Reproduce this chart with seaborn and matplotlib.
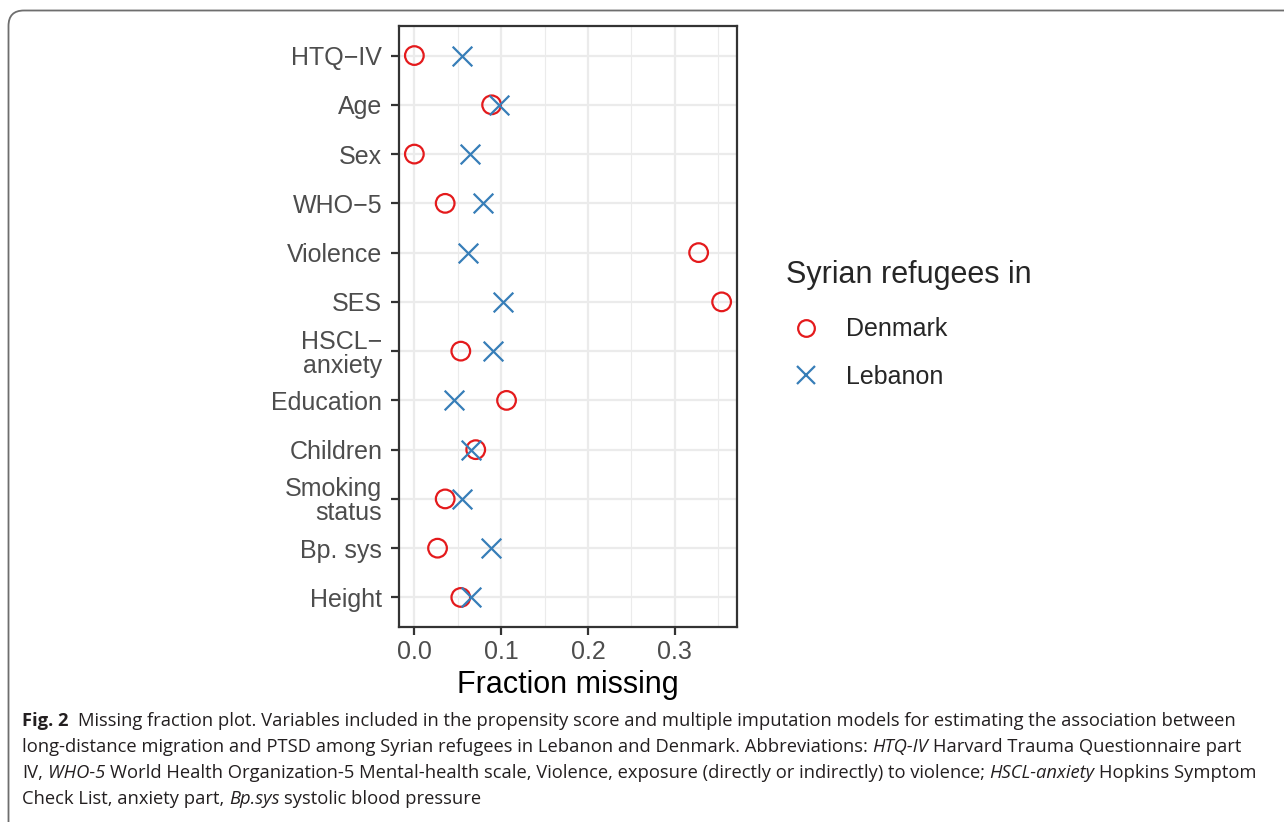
import numpy as np
import pandas as pd
import matplotlib
matplotlib.use("Agg")
import matplotlib.pyplot as plt
import seaborn as sns
from matplotlib.patches import FancyBboxPatch
from matplotlib.lines import Line2D

# variables, top to bottom
variables = ["HTQ\u2212IV", "Age", "Sex", "WHO\u22125", "Violence", "SES",
             "HSCL\u2212\nanxiety", "Education", "Children", "Smoking\nstatus",
             "Bp. sys", "Height"]
denmark = [0.0, 0.089, 0.0, 0.0355, 0.3275, 0.354,
           0.0535, 0.1062, 0.0707, 0.0355, 0.0267, 0.0535]
lebanon = [0.0554, 0.0975, 0.0638, 0.079, 0.0623, 0.1024,
           0.0906, 0.0451, 0.0657, 0.0554, 0.0879, 0.065]
x_ticks = [0.0, 0.1, 0.2, 0.3]

red = "#E41A1C"
blue = "#377EB8"

df = pd.DataFrame({
    "variable": variables * 2,
    "pos": list(range(len(variables))) * 2,
    "missing": denmark + lebanon,
    "country": ["Denmark"] * len(variables) + ["Lebanon"] * len(variables),
})

sns.set_style("white")
plt.rcParams["font.family"] = ["Liberation Sans", "DejaVu Sans"]

W, H = 1284, 822
fig = plt.figure(figsize=(W / 100, H / 100), dpi=100)
ax = fig.add_axes([399 / W, 1 - 627 / H, (737 - 399) / W, (627 - 26) / H])

# grid
for v in x_ticks:
    ax.axvline(v, color="#EBEBEB", lw=1.6, zorder=0)
for v in [0.05, 0.15, 0.25, 0.35]:
    ax.axvline(v, color="#EBEBEB", lw=0.8, zorder=0)
for i in range(len(variables)):
    ax.axhline(i, color="#EBEBEB", lw=1.6, zorder=0)

dk = df[df.country == "Denmark"]
lb = df[df.country == "Lebanon"]
sns.scatterplot(data=dk, x="missing", y="pos", marker="o", s=180,
                facecolors="none", edgecolors=red, linewidths=1.6, ax=ax, zorder=3)
sns.scatterplot(data=lb, x="missing", y="pos", marker="x", s=200,
                color=blue, linewidths=1.6, ax=ax, zorder=3)

ax.set_xlim(-0.0177, 0.3717)
ax.set_ylim(len(variables) - 0.4, -0.6)
ax.set_yticks(range(len(variables)))
ax.set_yticklabels(variables, fontsize=18, color="#4D4D4D", ha="right",
                   linespacing=1.0)
ax.set_xticks(x_ticks)
ax.set_xticklabels([f"{v:.1f}" for v in x_ticks], fontsize=18, color="#4D4D4D")
ax.tick_params(axis="both", length=6, width=1.6, color="#333333",
               left=True, bottom=True)
ax.tick_params(axis="y", pad=6)
ax.tick_params(axis="x", pad=3)
ax.set_xlabel("Fraction missing", fontsize=22, color="black", labelpad=5)
ax.set_ylabel("")
for sp in ax.spines.values():
    sp.set_visible(True)
    sp.set_color("#333333")
    sp.set_linewidth(1.6)

handles = [
    Line2D([], [], marker="o", ls="none", mfc="none", mec=red, mew=1.6, ms=12),
    Line2D([], [], marker="x", ls="none", color=blue, mew=1.6, ms=13),
]
leg = fig.legend(handles, ["Denmark", "Lebanon"], title="Syrian refugees in",
                 loc="upper left", bbox_to_anchor=(773 / W, 1 - 247 / H),
                 frameon=False, fontsize=18, title_fontsize=22,
                 handlelength=1.6, handletextpad=0.8, labelspacing=0.95,
                 borderpad=0)
leg._legend_box.align = "left"
leg._legend_box.sep = 20

# border box
box = FancyBboxPatch((8.5 / W, -20 / H), (W + 20) / W, (H - 10.5 + 20) / H,
                     boxstyle="round,pad=0,rounding_size=0.012",
                     transform=fig.transFigure, fill=False,
                     edgecolor="#6E6E6E", lw=1.3, mutation_aspect=W / H)
fig.patches.append(box)

# caption with mixed styles
cap_font = ["Open Sans", "DejaVu Sans"]
cap_size = 13.2
lines = [
    [("Fig. 2", "bold"), ("Missing fraction plot. Variables included in the propensity score and multiple imputation models for estimating the association between", "normal")],
    [("long-distance migration and PTSD among Syrian refugees in Lebanon and Denmark. Abbreviations:", "normal"), ("HTQ-IV", "italic"), ("Harvard Trauma Questionnaire part", "normal")],
    [("IV,", "normal"), ("WHO-5", "italic"), ("World Health Organization-5 Mental-health scale, Violence, exposure (directly or indirectly) to violence;", "normal"), ("HSCL-anxiety", "italic"), ("Hopkins Symptom", "normal")],
    [("Check List, anxiety part,", "normal"), ("Bp.sys", "italic"), ("systolic blood pressure", "normal")],
]
renderer = fig.canvas.get_renderer()
probe1 = fig.text(0, 0, "x x", fontsize=cap_size, family=cap_font)
probe2 = fig.text(0, 0, "xx", fontsize=cap_size, family=cap_font)
space = (probe1.get_window_extent(renderer).width
         - probe2.get_window_extent(renderer).width)
probe1.remove()
probe2.remove()

y_lines = [721, 747, 773, 799]
for runs, yl in zip(lines, y_lines):
    xp = 22.0
    for k, (txt, style) in enumerate(runs):
        t = fig.text(xp / W, 1 - yl / H, txt, fontsize=cap_size, family=cap_font,
                     fontweight="bold" if style == "bold" else "normal",
                     fontstyle="italic" if style == "italic" else "normal",
                     color="#231F20", va="center", ha="left")
        w = t.get_window_extent(renderer).width
        xp += w + space * (2 if style == "bold" else 1)

fig.savefig("out.png", dpi=100)
